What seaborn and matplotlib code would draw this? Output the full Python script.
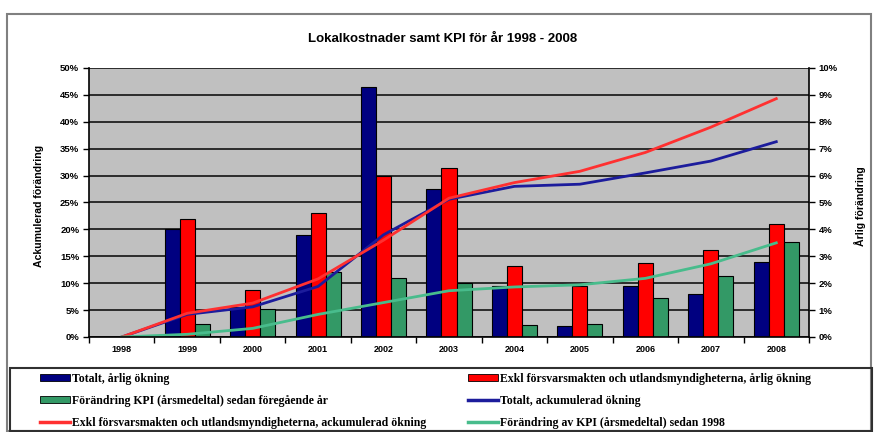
import numpy as np
import pandas as pd
import matplotlib
matplotlib.use("Agg")
import matplotlib.pyplot as plt
import seaborn as sns
from matplotlib.patches import Patch, Rectangle
from matplotlib.lines import Line2D
from matplotlib.ticker import PercentFormatter, FixedLocator

# ---------------- data ----------------
years = ["1998", "1999", "2000", "2001", "2002", "2003", "2004", "2005", "2006", "2007", "2008"]

# annual change (right axis, %)
totalt_arlig = [np.nan, 4.0, 1.1, 3.8, 9.3, 5.5, 1.9, 0.4, 1.9, 1.6, 2.8]
exkl_arlig = [np.nan, 4.4, 1.75, 4.6, 6.0, 6.3, 2.65, 1.9, 2.75, 3.25, 4.2]
kpi_arlig = [np.nan, 0.5, 1.05, 2.4, 2.2, 2.0, 0.45, 0.5, 1.45, 2.25, 3.55]

# accumulated change (left axis, %)
totalt_ack = [0.0, 4.2, 5.6, 9.4, 19.0, 25.6, 28.0, 28.4, 30.5, 32.7, 36.3]
exkl_ack = [0.0, 4.4, 6.3, 10.8, 18.0, 25.8, 28.7, 30.8, 34.3, 39.0, 44.3]
kpi_ack = [0.0, 0.5, 1.6, 4.2, 6.4, 8.6, 9.3, 9.7, 10.9, 13.6, 17.5]

bar_names = ["Totalt, årlig ökning",
             "Exkl försvarsmakten och utlandsmyndigheterna, årlig ökning",
             "Förändring KPI (årsmedeltal) sedan föregående år"]
line_names = ["Totalt, ackumulerad ökning",
              "Exkl försvarsmakten och utlandsmyndigheterna, ackumulerad ökning",
              "Förändring av KPI (årsmedeltal) sedan 1998"]

title = "Lokalkostnader samt KPI för år 1998 - 2008"
left_label = "Ackumulerad förändring"
right_label = "Årlig förändring"

# ---------------- styling ----------------
bar_colors = ["#000080", "#FF0000", "#339966"]
line_colors = ["#1C1C9C", "#FF3030", "#48BC8C"]

W, H = 876, 432
fig = plt.figure(figsize=(W / 100, H / 100), dpi=100)
fig.patch.set_facecolor("white")

def fx(px):
    return px / W

def fy(py):
    return 1 - py / H

left_px, right_px, top_px, bottom_px = 89, 809, 68, 337
ax = fig.add_axes([fx(left_px), fy(bottom_px), fx(right_px - left_px), (bottom_px - top_px) / H])
axb = ax.twinx()

# bars on the twin (right) axis, drawn beneath the lines
bars_df = pd.DataFrame({
    "year": years * 3,
    "serie": sum([[n] * len(years) for n in bar_names], []),
    "value": totalt_arlig + exkl_arlig + kpi_arlig,
})
axb.set_facecolor("#C0C0C0")
axb.patch.set_visible(True)
axb.set_axisbelow(True)
sns.barplot(data=bars_df, x="year", y="value", hue="serie", order=years,
            hue_order=bar_names, palette=bar_colors, saturation=1, width=0.69,
            edgecolor="black", linewidth=0.8, legend=False, ax=axb, zorder=2)
axb.set_ylim(0, 10)
axb.yaxis.set_major_locator(FixedLocator(range(0, 11)))
axb.yaxis.set_major_formatter(PercentFormatter(xmax=100, decimals=0))
axb.yaxis.grid(True, color="#202020", linewidth=1.3)
axb.xaxis.grid(False)
axb.set_ylabel("")
axb.set_xlabel("")

# lines on the main (left) axis
lines_df = pd.DataFrame({
    "pos": list(range(len(years))) * 3,
    "serie": sum([[n] * len(years) for n in line_names], []),
    "value": totalt_ack + exkl_ack + kpi_ack,
})
ax.set_zorder(axb.get_zorder() + 1)
ax.patch.set_visible(False)
sns.lineplot(data=lines_df, x="pos", y="value", hue="serie", hue_order=line_names,
             palette=line_colors, linewidth=2.0, legend=False, ax=ax)
ax.set_ylim(0, 50)
ax.yaxis.set_major_locator(FixedLocator(range(0, 51, 5)))
ax.yaxis.set_major_formatter(PercentFormatter(xmax=100, decimals=0))
ax.set_xlim(-0.5, len(years) - 0.5)
ax.set_xticks(range(len(years)))
ax.set_xticklabels(years)
ax.set_xticks(np.arange(-0.5, len(years), 1.0), minor=True)
ax.tick_params(axis="x", which="major", length=0, pad=6, labelsize=6.5)
ax.tick_params(axis="x", which="minor", length=4, width=1, color="black", direction="out")
ax.tick_params(axis="y", length=4, width=1, color="black", direction="out", labelsize=6.8, pad=3)
axb.tick_params(axis="y", length=4, width=1, color="black", direction="out", labelsize=6.8, pad=3)
ax.set_xlabel("")
ax.set_ylabel("")
for lbl in ax.get_xticklabels() + ax.get_yticklabels() + axb.get_yticklabels():
    lbl.set_fontweight("bold")
    lbl.set_family("Liberation Sans")

for a in (ax, axb):
    for s in a.spines.values():
        s.set_visible(False)
ax.spines["left"].set_visible(True)
ax.spines["left"].set_color("black")
ax.spines["left"].set_linewidth(1.2)
ax.spines["bottom"].set_visible(True)
ax.spines["bottom"].set_color("black")
ax.spines["bottom"].set_linewidth(1.2)
axb.spines["right"].set_visible(True)
axb.spines["right"].set_color("black")
axb.spines["right"].set_linewidth(1.2)

# texts
fig.text(fx(443), fy(39), title, ha="center", va="center", fontsize=9.5,
         fontweight="bold", family="Liberation Sans")
fig.text(fx(39), fy(206), left_label, ha="center", va="center", rotation=90,
         fontsize=7.6, fontweight="bold", family="Liberation Sans")
fig.text(fx(860), fy(206), right_label, ha="center", va="center", rotation=90,
         fontsize=7.6, fontweight="bold", family="Liberation Sans")

# outer chart border
fig.patches.append(Rectangle((fx(7), fy(431)), fx(864), (431 - 14) / H,
                             transform=fig.transFigure, fill=False,
                             edgecolor="#808080", linewidth=1.5))
# legend frame
fig.patches.append(Rectangle((fx(10), fy(431)), fx(862), (431 - 368) / H,
                             transform=fig.transFigure, fill=False,
                             edgecolor="#303030", linewidth=1.5))

bar_handles = [Patch(facecolor=c, edgecolor="black", linewidth=0.6) for c in bar_colors]
line_handles = [Line2D([0], [0], color=c, linewidth=2.5) for c in line_colors]

col1_h = [bar_handles[0], bar_handles[2], line_handles[1]]
col1_l = [bar_names[0], bar_names[2], line_names[1]]
col2_h = [bar_handles[1], line_handles[0], line_handles[2]]
col2_l = [bar_names[1], line_names[0], line_names[2]]

leg_kw = dict(frameon=False, loc="upper left", borderpad=0, borderaxespad=0,
              handlelength=2.5, handleheight=0.5, handletextpad=0.2, labelspacing=0.85,
              prop={"family": "Liberation Serif", "weight": "bold", "size": 8.5})
leg1 = fig.legend(col1_h, col1_l, bbox_to_anchor=(fx(40), fy(373)), **leg_kw)
leg2 = fig.legend(col2_h, col2_l, bbox_to_anchor=(fx(468), fy(373)), **leg_kw)

fig.savefig("out.png", dpi=100)
